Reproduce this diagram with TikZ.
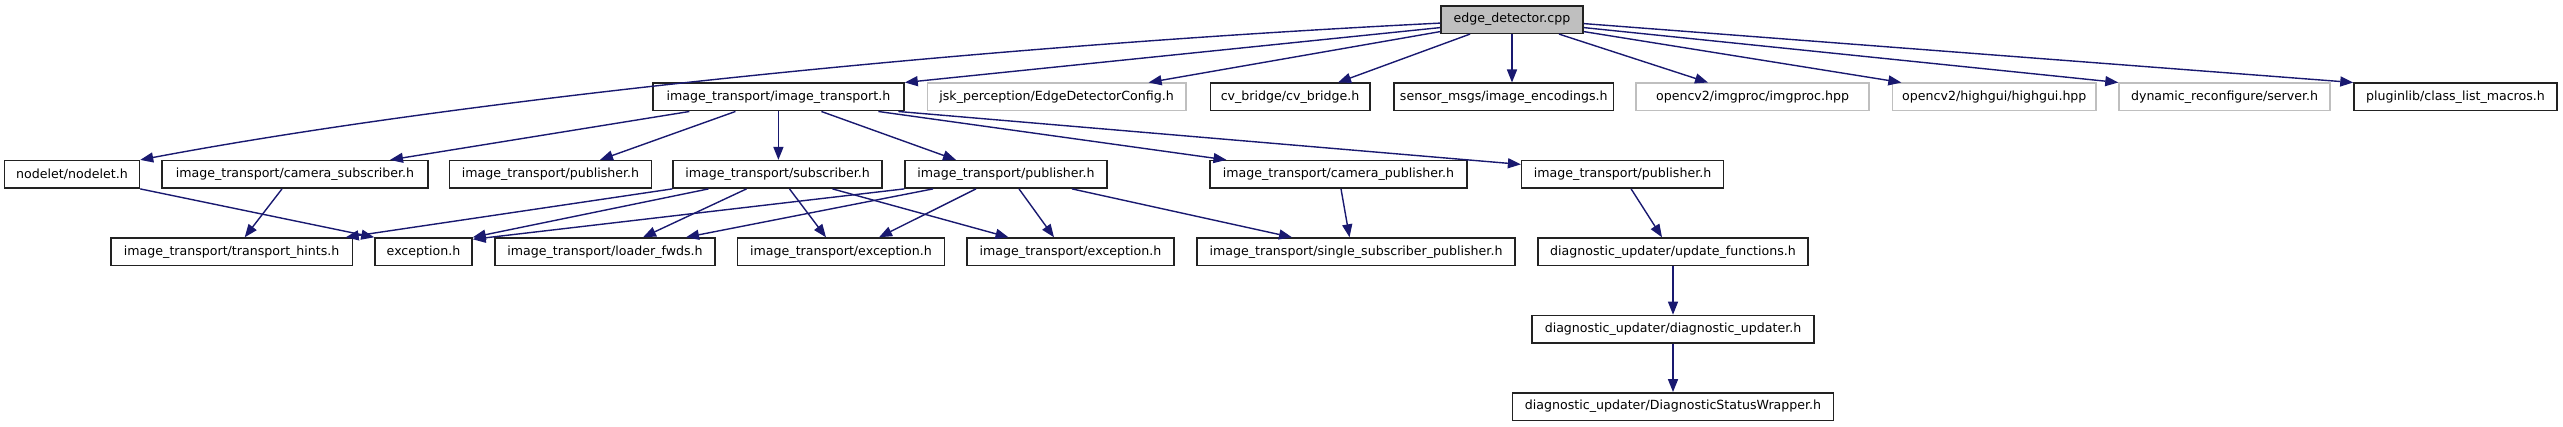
\documentclass[tikz,border=0pt]{standalone}
\usepackage{fontspec}
\setmainfont{DejaVu Sans}
\usetikzlibrary{arrows.meta}
\definecolor{midblue}{HTML}{191970}
\definecolor{greyfill}{HTML}{BFBFBF}
\definecolor{boxline}{HTML}{222222}
\tikzset{
  box/.style={draw=boxline, line width=1.5pt, fill=white, minimum height=27.5pt,
    inner xsep=3pt, inner ysep=0pt, font=\fontsize{12.6}{14}\selectfont},
  ghostbox/.style={box, draw=greyfill},
  rootbox/.style={box, fill=greyfill},
  dep/.style={draw=midblue, line width=1.4pt, -{Triangle[length=13pt,width=10pt]}},
}
\begin{document}
\begin{tikzpicture}[x=1pt,y=-1pt]
\useasboundingbox (0,0) rectangle (2563,427);
% row 1
\node[rootbox, minimum width=142pt] (ed) at (1512,19.6) {edge\_detector.cpp};
% row 2
\node[box, minimum width=251.3pt] (it) at (778.4,97) {image\_transport/image\_transport.h};
\node[ghostbox, minimum width=258.3pt] (jsk) at (1056.6,97) {jsk\_perception/EdgeDetectorConfig.h};
\node[box, minimum width=159.5pt] (cvb) at (1290,97) {cv\_bridge/cv\_bridge.h};
\node[box, minimum width=219.5pt] (sm) at (1503.8,97) {sensor\_msgs/image\_encodings.h};
\node[ghostbox, minimum width=233pt] (cvi) at (1752.5,97) {opencv2/imgproc/imgproc.hpp};
\node[ghostbox, minimum width=203.4pt] (cvh) at (1994.3,97) {opencv2/highgui/highgui.hpp};
\node[ghostbox, minimum width=211pt] (dr) at (2224.5,97) {dynamic\_reconfigure/server.h};
\node[box, minimum width=203pt] (pl) at (2455.5,97) {pluginlib/class\_list\_macros.h};
% row 3
\node[box, minimum width=135pt] (nd) at (72,174.4) {nodelet/nodelet.h};
\node[box, minimum width=266pt] (cs) at (295,174.4) {image\_transport/camera\_subscriber.h};
\node[box, minimum width=202pt] (p1) at (550.5,174.4) {image\_transport/publisher.h};
\node[box, minimum width=209pt] (sub) at (777.5,174.4) {image\_transport/subscriber.h};
\node[box, minimum width=202pt] (p2) at (1006,174.4) {image\_transport/publisher.h};
\node[box, minimum width=257pt] (cp) at (1338.5,174.4) {image\_transport/camera\_publisher.h};
\node[box, minimum width=202pt] (p3) at (1622.6,174.4) {image\_transport/publisher.h};
% row 4
\node[box, minimum width=241.5pt] (th) at (231.7,251.8) {image\_transport/transport\_hints.h};
\node[box, minimum width=97pt] (ex) at (423.5,251.8) {exception.h};
\node[box, minimum width=220pt] (lf) at (605,251.8) {image\_transport/loader\_fwds.h};
\node[box, minimum width=207pt] (ie1) at (841,251.8) {image\_transport/exception.h};
\node[box, minimum width=207pt] (ie2) at (1070.5,251.8) {image\_transport/exception.h};
\node[box, minimum width=318pt] (ssp) at (1356,251.8) {image\_transport/single\_subscriber\_publisher.h};
\node[box, minimum width=270pt] (uf) at (1673,251.8) {diagnostic\_updater/update\_functions.h};
% row 5, 6
\node[box, minimum width=282pt] (du) at (1673,329.2) {diagnostic\_updater/diagnostic\_updater.h};
\node[box, minimum width=320.6pt] (dsw) at (1673,406.6) {diagnostic\_updater/DiagnosticStatusWrapper.h};
% edges from edge_detector.cpp
\draw[dep] ([yshift=-3.5pt]ed.west) .. controls (941,48) and (441,103) .. (nd.north east);
\draw[dep] ([yshift=-8pt]ed.west) -- (it.north east);
\draw[dep] ([yshift=-12pt]ed.west) -- ([xshift=92pt]jsk.north);
\draw[dep] ([xshift=-42pt]ed.south) -- ([xshift=48pt]cvb.north);
\draw[dep] ([xshift=0pt]ed.south) -- ([xshift=8.2pt]sm.north);
\draw[dep] ([xshift=47pt]ed.south) -- ([xshift=-44.5pt]cvi.north);
\draw[dep] ([yshift=-12pt]ed.east) -- ([xshift=-93pt]cvh.north);
\draw[dep] ([yshift=-8pt]ed.east) -- (dr.north west);
\draw[dep] ([yshift=-4pt]ed.east) -- (pl.north west);
% edges from image_transport.h
\draw[dep] ([xshift=-89pt]it.south) -- ([xshift=95pt]cs.north);
\draw[dep] ([xshift=-43pt]it.south) -- ([xshift=49.5pt]p1.north);
\draw[dep] (it.south) -- ([xshift=0.9pt]sub.north);
\draw[dep] ([xshift=43pt]it.south) -- ([xshift=-50pt]p2.north);
\draw[dep] ([xshift=100pt]it.south) -- ([xshift=-112pt]cp.north);
\draw[dep] ([xshift=120pt]it.south) -- ([yshift=10pt]p3.west);
% row 3 -> row 4
\draw[dep] (nd.south east) -- (ex.north west);
\draw[dep] ([xshift=-13pt]cs.south) -- ([xshift=13pt]th.north);
\draw[dep] (sub.south west) -- ([xshift=114pt]th.north);
\draw[dep] ([xshift=-69pt]sub.south) -- (ex.north east);
\draw[dep] ([xshift=-31pt]sub.south) -- ([xshift=38pt]lf.north);
\draw[dep] ([xshift=12pt]sub.south) -- ([xshift=-15pt]ie1.north);
\draw[dep] ([xshift=55pt]sub.south) -- ([xshift=-62pt]ie2.north);
\draw[dep] (p2.south west) -- ([yshift=-2pt]ex.north east);
\draw[dep] ([xshift=-73pt]p2.south) -- ([xshift=81pt]lf.north);
\draw[dep] ([xshift=-30pt]p2.south) -- ([xshift=38pt]ie1.north);
\draw[dep] ([xshift=13pt]p2.south) -- ([xshift=-16.5pt]ie2.north);
\draw[dep] ([xshift=66pt]p2.south) -- ([xshift=-64pt]ssp.north);
\draw[dep] ([xshift=2.5pt]cp.south) -- ([xshift=-6.5pt]ssp.north);
\draw[dep] ([xshift=8.5pt]p3.south) -- ([xshift=-11pt]uf.north);
\draw[dep] (uf) -- (du);
\draw[dep] (du) -- (dsw);
\end{tikzpicture}
\end{document}
